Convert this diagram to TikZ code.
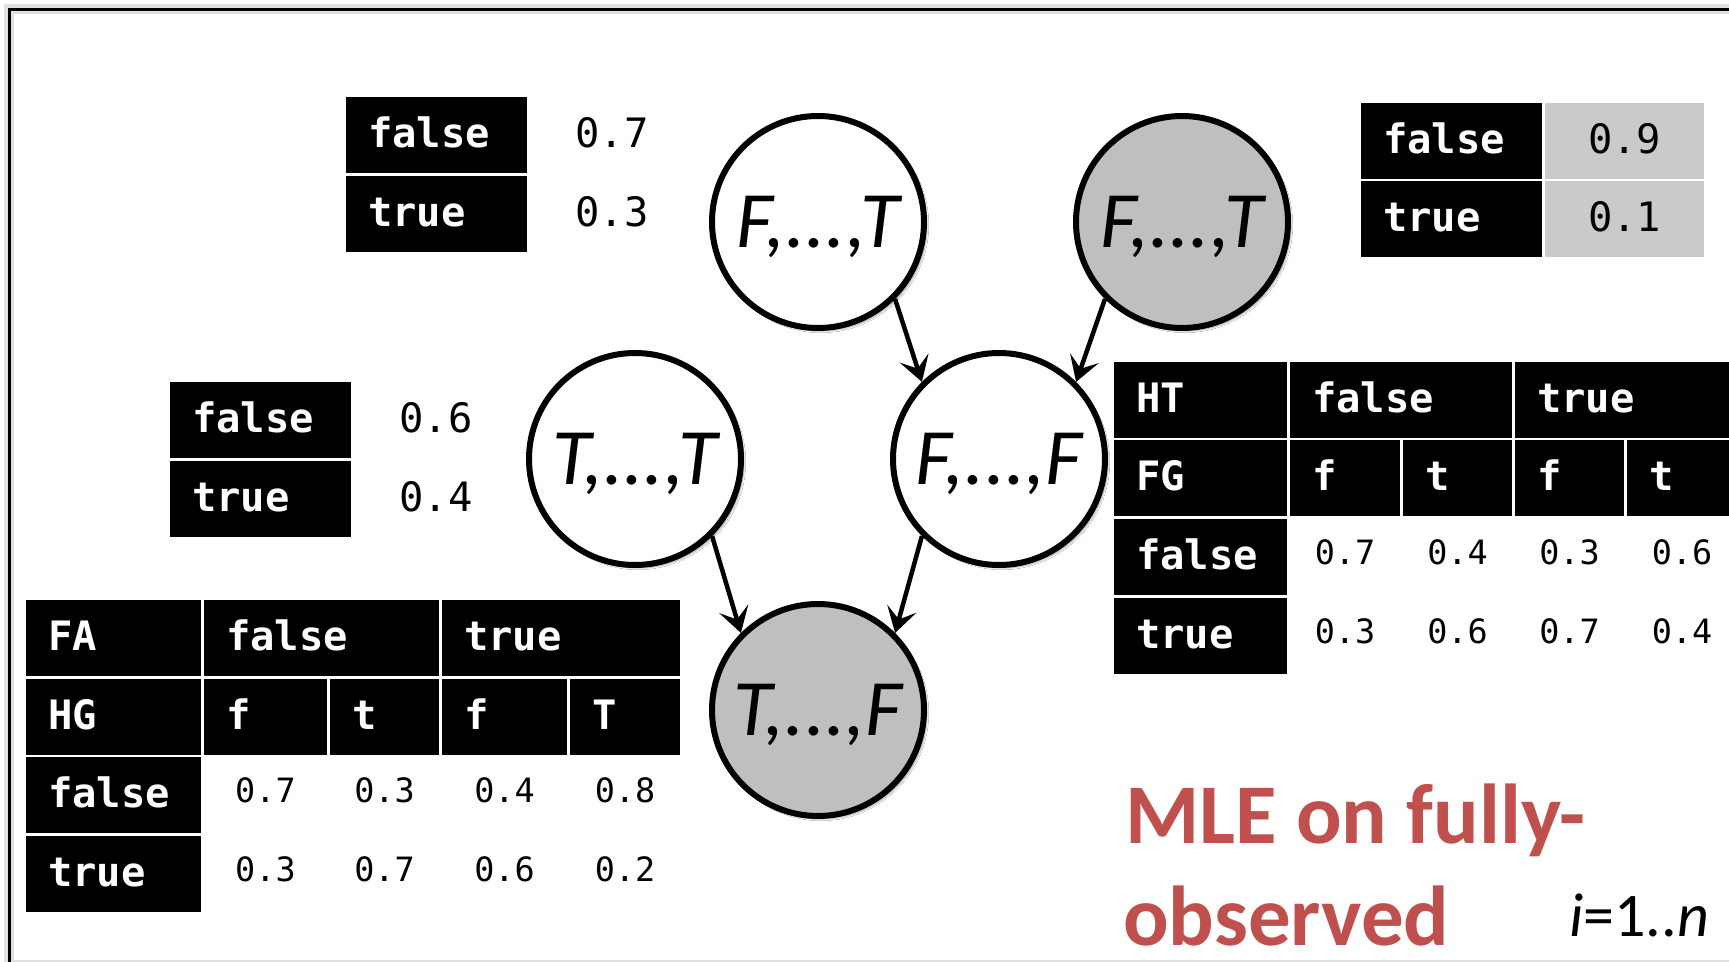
\documentclass[tikz,border=0pt]{standalone}
\usepackage{fontspec}
\usetikzlibrary{arrows.meta,shadows.blur}
\newfontfamily\monofont{DejaVu Sans Mono}
\newfontfamily\calibrifont{Carlito}
\definecolor{nodegray}{HTML}{BFBFBF}
\definecolor{cellgray}{HTML}{CACACA}
\definecolor{titlered}{HTML}{C0504D}

\begin{document}
\begin{tikzpicture}[x=1pt,y=-1pt,
  var/.style={circle, draw=black, line width=6pt, minimum size=212pt, inner sep=0pt,
    font=\calibrifont\itshape\fontsize{80pt}{96pt}\selectfont, text height=51pt, text depth=0pt,
    blur shadow={shadow xshift=3pt, shadow yshift=-3pt, shadow blur steps=6, shadow opacity=35}},
  obs/.style={var, fill=nodegray},
  hid/.style={var, fill=white},
  edge/.style={line width=4.5pt, -{Stealth[length=25pt, width=30pt, inset=11pt]}},
  hcell/.style={fill=black, text=white, anchor=north west, inner ysep=0pt, inner xsep=22pt,
    minimum height=76pt, text height=24pt, text depth=0pt, align=left,
    font=\monofont\bfseries\fontsize{40.5pt}{48pt}\selectfont},
  gcell/.style={fill=cellgray, text=black, anchor=north west, inner sep=0pt, minimum width=159pt,
    minimum height=76pt, text height=24pt, text depth=0pt, align=center,
    font=\monofont\fontsize{40.5pt}{48pt}\selectfont},
  pval/.style={anchor=base, inner sep=0pt, font=\monofont\fontsize{40.5pt}{48pt}\selectfont},
  cval/.style={anchor=base, inner sep=0pt, font=\monofont\fontsize{33.5pt}{40pt}\selectfont},
  title/.style={anchor=base west, inner sep=0pt, text=titlered,
    font=\calibrifont\bfseries\fontsize{85pt}{100pt}\selectfont},
]
\useasboundingbox (0,0) rectangle (1729,961);
\clip (0,0) rectangle (1729,961);
\fill[white] (0,0) rectangle (1729,961);

% slide frame
\draw[black!12, line width=10pt] (9,9) rectangle (1780,965);
\draw[line width=3pt] (9,9) rectangle (1780,965);

% prior of the top-left variable
\node[hcell, text width=137pt] (pa-f) at (346,97) {false};
\node[hcell, text width=137pt] (pa-t) at (346,176) {true};
\node[pval] (pa-fv) at (612,147) {0.7};
\node[pval] (pa-tv) at (612,226) {0.3};

% prior of the left variable
\node[hcell, text width=137pt] (pc-f) at (170,382) {false};
\node[hcell, text width=137pt] (pc-t) at (170,461) {true};
\node[pval] (pc-fv) at (436,432) {0.6};
\node[pval] (pc-tv) at (436,511) {0.4};

% prior of the top-right variable
\node[hcell, text width=137pt] (pb-f) at (1361,103) {false};
\node[hcell, text width=137pt] (pb-t) at (1361,181) {true};
\node[gcell] (pb-fv) at (1545,103) {0.9};
\node[gcell] (pb-tv) at (1545,181) {0.1};

% conditional table FA / HG
\node[hcell, text width=131pt] (fa-h)  at (26,600)  {FA};
\node[hcell, text width=191pt] (fa-hf) at (204,600) {false};
\node[hcell, text width=194pt] (fa-ht) at (442,600) {true};
\node[hcell, text width=131pt] (fa-g)  at (26,679)  {HG};
\node[hcell, text width=79pt]  (fa-g1) at (204,679) {f};
\node[hcell, text width=65pt]  (fa-g2) at (330,679) {t};
\node[hcell, text width=81pt]  (fa-g3) at (442,679) {f};
\node[hcell, text width=66pt]  (fa-g4) at (570,679) {T};
\node[hcell, text width=131pt] (fa-f)  at (26,757)  {false};
\node[hcell, text width=131pt] (fa-t)  at (26,836)  {true};
\node[cval] (fa-f1) at (265.5,802) {0.7};
\node[cval] (fa-f2) at (384.5,802) {0.3};
\node[cval] (fa-f3) at (504.5,802) {0.4};
\node[cval] (fa-f4) at (625,802)   {0.8};
\node[cval] (fa-t1) at (265.5,881) {0.3};
\node[cval] (fa-t2) at (384.5,881) {0.7};
\node[cval] (fa-t3) at (504.5,881) {0.6};
\node[cval] (fa-t4) at (625,881)   {0.2};

% conditional table HT / FG
\node[hcell, text width=129pt] (ht-h)  at (1114,362) {HT};
\node[hcell, text width=178pt] (ht-hf) at (1290,362) {false};
\node[hcell, text width=178pt] (ht-ht) at (1515,362) {true};
\node[hcell, text width=129pt] (ht-g)  at (1114,440) {FG};
\node[hcell, text width=66pt]  (ht-g1) at (1290,440) {f};
\node[hcell, text width=65pt]  (ht-g2) at (1403,440) {t};
\node[hcell, text width=65pt]  (ht-g3) at (1515,440) {f};
\node[hcell, text width=66pt]  (ht-g4) at (1627,440) {t};
\node[hcell, text width=129pt] (ht-f)  at (1114,519) {false};
\node[hcell, text width=129pt] (ht-t)  at (1114,598) {true};
\node[cval] (ht-f1) at (1345,564)   {0.7};
\node[cval] (ht-f2) at (1457.5,564) {0.4};
\node[cval] (ht-f3) at (1569.5,564) {0.3};
\node[cval] (ht-f4) at (1682,564)   {0.6};
\node[cval] (ht-t1) at (1345,643)   {0.3};
\node[cval] (ht-t2) at (1457.5,643) {0.6};
\node[cval] (ht-t3) at (1569.5,643) {0.7};
\node[cval] (ht-t4) at (1682,643)   {0.4};

% network
\node[hid] (a) at (818,222) {F,...,T};
\node[obs] (b) at (1182,222) {F,...,T};
\node[hid] (c) at (635,459) {T,...,T};
\node[hid] (d) at (999,459) {F,...,F};
\node[obs] (e) at (818,710) {T,...,F};

\draw[edge] (a.-45) -- (d.135);
\draw[edge] (b.-135) -- (d.45);
\draw[edge] (c.-45) -- (e.135);
\draw[edge] (d.-135) -- (e.45);

% caption
\node[title] (mle1) at (1125,843) {MLE on fully-};
\node[title] (mle2) at (1123,945) {observed};
\node[anchor=base west, inner sep=0pt, font=\calibrifont\fontsize{62pt}{72pt}\selectfont]
  (range) at (1569,936) {\textit{i}=1..\textit{n}};
\end{tikzpicture}
\end{document}
